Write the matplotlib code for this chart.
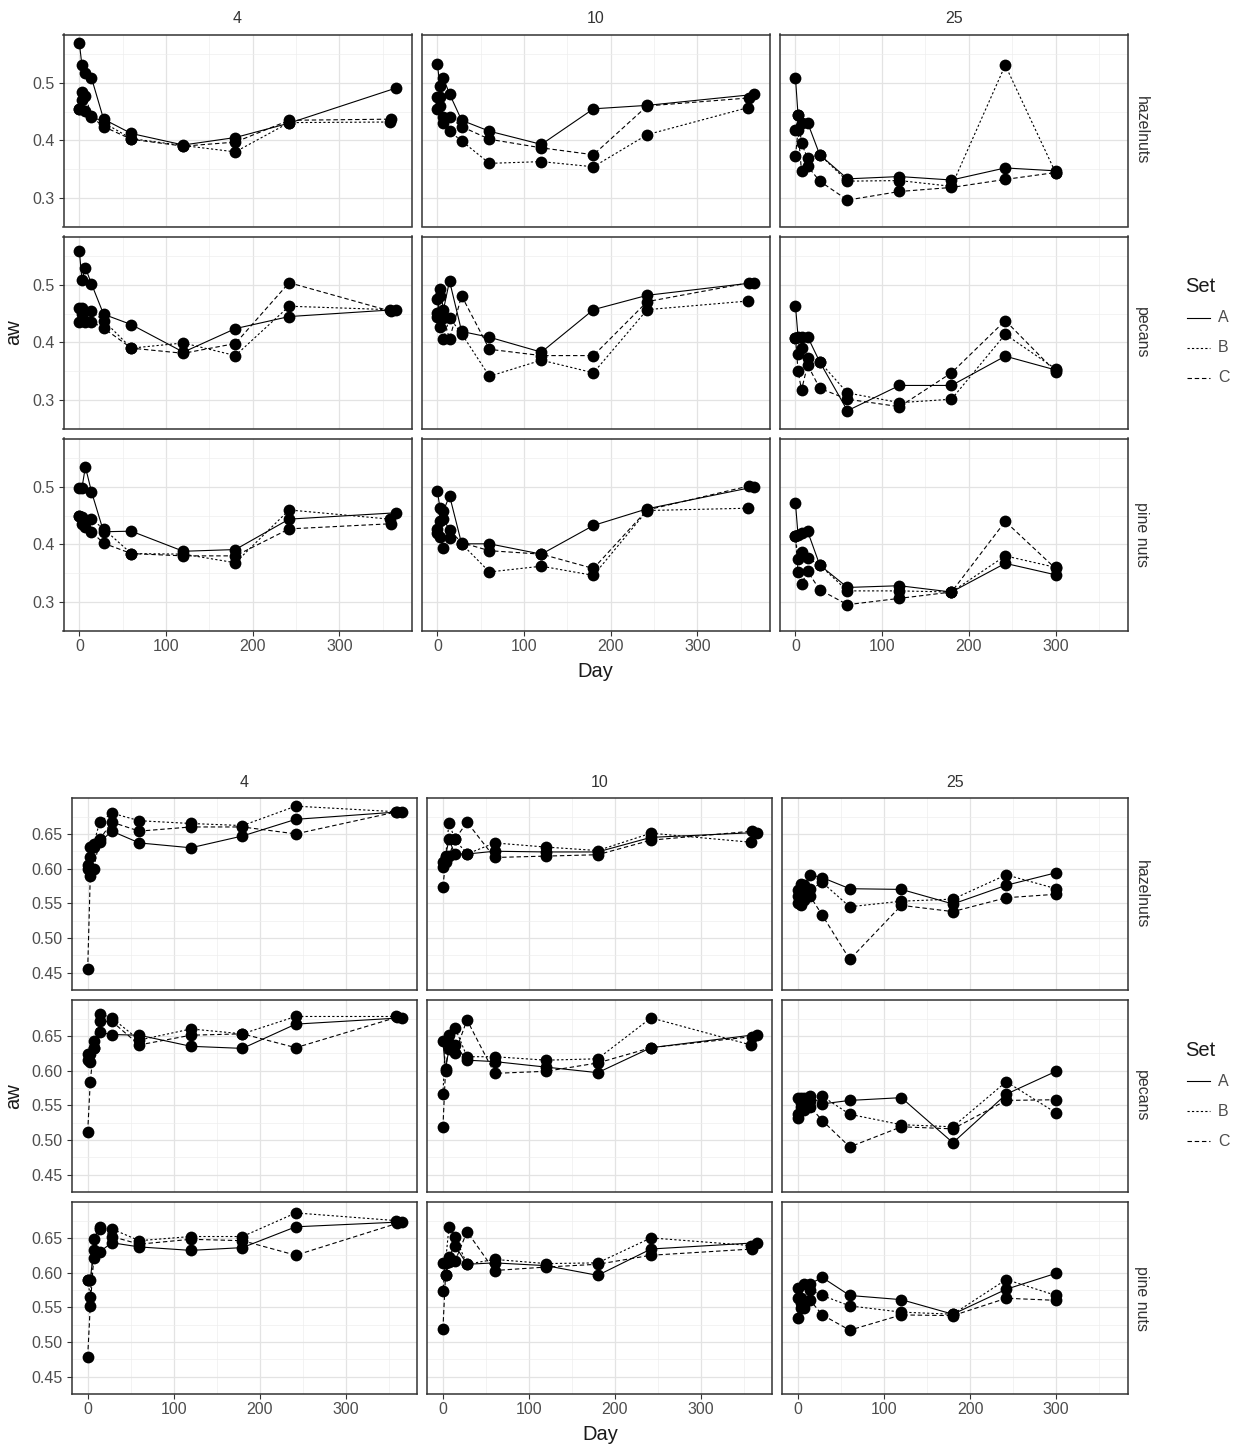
import numpy as np
import matplotlib
matplotlib.use("Agg")
import matplotlib.pyplot as plt
from matplotlib.lines import Line2D

plt.rcParams['font.family'] = ['Liberation Sans', 'DejaVu Sans']

# sampling days (4 and 10 C run to ~1 year, 25 C stops at 300)
days = [0, 3, 7, 14, 28, 60, 120, 180, 242, 360]
days_25 = [0, 3, 7, 14, 28, 60, 120, 180, 242, 300]
last_day = [365, 358, 360]  # final day for sets A, B, C

temps = ["4", "10", "25"]
nuts = ["hazelnuts", "pecans", "pine nuts"]
sets = ["A", "B", "C"]

# ---- upper chart: rows = sets A, B, C ----
lo_hz_4 = [[0.570, 0.531, 0.517, 0.509, 0.437, 0.412, 0.392, 0.405, 0.430, 0.491],
           [0.455, 0.484, 0.477, 0.443, 0.431, 0.403, 0.391, 0.380, 0.431, 0.432],
           [0.455, 0.470, 0.452, 0.441, 0.424, 0.402, 0.390, 0.397, 0.435, 0.437]]
lo_hz_10 = [[0.533, 0.494, 0.508, 0.481, 0.435, 0.416, 0.393, 0.455, 0.461, 0.480],
            [0.454, 0.476, 0.430, 0.416, 0.399, 0.360, 0.363, 0.354, 0.410, 0.457],
            [0.476, 0.460, 0.440, 0.440, 0.424, 0.402, 0.387, 0.375, 0.460, 0.474]]
lo_hz_25 = [[0.509, 0.444, 0.430, 0.431, 0.375, 0.333, 0.337, 0.331, 0.352, 0.347],
            [0.418, 0.444, 0.395, 0.369, 0.375, 0.329, 0.330, 0.320, 0.531, 0.344],
            [0.372, 0.418, 0.346, 0.355, 0.329, 0.296, 0.311, 0.318, 0.332, 0.344]]
lo_pc_4 = [[0.560, 0.509, 0.530, 0.502, 0.449, 0.431, 0.383, 0.424, 0.445, 0.457],
           [0.460, 0.449, 0.436, 0.454, 0.438, 0.390, 0.399, 0.377, 0.463, 0.457],
           [0.436, 0.460, 0.438, 0.436, 0.425, 0.390, 0.381, 0.398, 0.504, 0.454]]
lo_pc_10 = [[0.452, 0.493, 0.457, 0.507, 0.419, 0.409, 0.383, 0.457, 0.482, 0.504],
            [0.476, 0.427, 0.406, 0.443, 0.415, 0.341, 0.369, 0.347, 0.457, 0.472],
            [0.445, 0.480, 0.443, 0.406, 0.481, 0.388, 0.377, 0.377, 0.471, 0.504]]
lo_pc_25 = [[0.464, 0.410, 0.410, 0.410, 0.366, 0.281, 0.325, 0.325, 0.376, 0.352],
            [0.408, 0.380, 0.391, 0.372, 0.366, 0.312, 0.295, 0.301, 0.414, 0.354],
            [0.408, 0.350, 0.317, 0.361, 0.320, 0.301, 0.288, 0.347, 0.438, 0.349]]
lo_pn_4 = [[0.498, 0.498, 0.535, 0.492, 0.422, 0.423, 0.388, 0.391, 0.444, 0.455],
           [0.449, 0.447, 0.441, 0.444, 0.427, 0.384, 0.383, 0.368, 0.460, 0.444],
           [0.449, 0.436, 0.430, 0.422, 0.402, 0.384, 0.380, 0.380, 0.427, 0.436]]
lo_pn_10 = [[0.493, 0.463, 0.458, 0.485, 0.401, 0.401, 0.383, 0.433, 0.462, 0.500],
            [0.427, 0.413, 0.394, 0.411, 0.401, 0.352, 0.362, 0.346, 0.459, 0.463],
            [0.420, 0.440, 0.444, 0.425, 0.403, 0.389, 0.383, 0.358, 0.460, 0.502]]
lo_pn_25 = [[0.472, 0.416, 0.420, 0.423, 0.364, 0.325, 0.328, 0.317, 0.367, 0.347],
            [0.414, 0.374, 0.386, 0.376, 0.364, 0.319, 0.319, 0.317, 0.380, 0.360],
            [0.414, 0.352, 0.331, 0.353, 0.321, 0.295, 0.306, 0.317, 0.440, 0.358]]

# ---- lower chart ----
hi_hz_4 = [[0.605, 0.616, 0.631, 0.638, 0.654, 0.637, 0.630, 0.647, 0.671, 0.682],
           [0.600, 0.631, 0.636, 0.667, 0.680, 0.669, 0.665, 0.662, 0.690, 0.682],
           [0.455, 0.589, 0.600, 0.642, 0.667, 0.654, 0.660, 0.660, 0.650, 0.682]]
hi_hz_10 = [[0.602, 0.618, 0.642, 0.621, 0.621, 0.625, 0.624, 0.624, 0.645, 0.652],
            [0.609, 0.616, 0.666, 0.642, 0.621, 0.637, 0.631, 0.626, 0.651, 0.638],
            [0.574, 0.609, 0.618, 0.642, 0.667, 0.616, 0.618, 0.620, 0.641, 0.654]]
hi_hz_25 = [[0.569, 0.578, 0.576, 0.591, 0.587, 0.571, 0.570, 0.549, 0.576, 0.594],
            [0.560, 0.551, 0.565, 0.570, 0.580, 0.545, 0.553, 0.556, 0.591, 0.571],
            [0.551, 0.547, 0.555, 0.560, 0.533, 0.469, 0.547, 0.538, 0.558, 0.563]]
hi_pc_4 = [[0.624, 0.613, 0.633, 0.655, 0.652, 0.651, 0.635, 0.632, 0.667, 0.676],
           [0.615, 0.624, 0.642, 0.682, 0.676, 0.644, 0.660, 0.653, 0.678, 0.678],
           [0.512, 0.584, 0.633, 0.671, 0.671, 0.637, 0.651, 0.653, 0.633, 0.677]]
hi_pc_10 = [[0.642, 0.602, 0.631, 0.637, 0.615, 0.613, 0.605, 0.597, 0.633, 0.652],
            [0.566, 0.642, 0.651, 0.662, 0.620, 0.620, 0.615, 0.617, 0.676, 0.637],
            [0.519, 0.600, 0.640, 0.625, 0.673, 0.596, 0.599, 0.611, 0.633, 0.649]]
hi_pc_25 = [[0.561, 0.554, 0.561, 0.563, 0.552, 0.557, 0.561, 0.496, 0.566, 0.599],
            [0.537, 0.548, 0.543, 0.556, 0.563, 0.537, 0.522, 0.519, 0.584, 0.539],
            [0.532, 0.560, 0.550, 0.548, 0.528, 0.490, 0.519, 0.516, 0.557, 0.558]]
hi_pn_4 = [[0.590, 0.590, 0.632, 0.630, 0.643, 0.637, 0.632, 0.636, 0.666, 0.673],
           [0.590, 0.565, 0.648, 0.666, 0.663, 0.646, 0.652, 0.652, 0.686, 0.675],
           [0.479, 0.552, 0.621, 0.663, 0.652, 0.641, 0.648, 0.646, 0.625, 0.671]]
hi_pn_10 = [[0.614, 0.596, 0.623, 0.639, 0.612, 0.614, 0.610, 0.596, 0.634, 0.643],
            [0.573, 0.614, 0.666, 0.652, 0.612, 0.619, 0.613, 0.614, 0.650, 0.639],
            [0.519, 0.596, 0.615, 0.616, 0.659, 0.603, 0.608, 0.612, 0.625, 0.634]]
hi_pn_25 = [[0.578, 0.563, 0.584, 0.584, 0.593, 0.567, 0.561, 0.540, 0.576, 0.599],
            [0.563, 0.549, 0.554, 0.575, 0.567, 0.552, 0.543, 0.540, 0.590, 0.567],
            [0.534, 0.556, 0.549, 0.560, 0.539, 0.517, 0.539, 0.538, 0.563, 0.560]]

lo_yticks = [0.3, 0.4, 0.5]
lo_ylabels = ["0.3", "0.4", "0.5"]
hi_yticks = [0.45, 0.50, 0.55, 0.60, 0.65]
hi_ylabels = ["0.45", "0.50", "0.55", "0.60", "0.65"]
xticks = [0, 100, 200, 300]

W, H = 1239, 1450
fig = plt.figure(figsize=(W / 100, H / 100), dpi=100)

line_styles = ["-", (0, (2, 2)), (0, (4, 2.5))]
TXT = "#4D4D4D"


def px_axes(x0, y0, w, h):
    return fig.add_axes([x0 / W, 1 - (y0 + h) / H, w / W, h / H])


def draw_grid(grid, top, left, yticks, ylabels):
    right = 1127.7
    gap = 10
    pw = (right - left - 2 * gap) / 3
    ph = 192
    vals = np.concatenate([np.ravel(p) for row in grid for p in row])
    pad = 0.05 * (vals.max() - vals.min())
    ylim = (vals.min() - pad, vals.max() + pad)
    xmax = max(last_day)
    xlim = (-0.05 * xmax, 1.05 * xmax)
    ystep = yticks[1] - yticks[0]
    yminor = [t + ystep / 2 for t in [yticks[0] - ystep] + yticks]
    for r, row in enumerate(grid):
        for c, panel in enumerate(row):
            ax = px_axes(left + c * (pw + gap), top + r * (ph + gap), pw, ph)
            for s, v in enumerate(panel):
                d = days_25 if temps[c] == "25" else days[:-1] + [last_day[s]]
                ax.plot(d, v, color="black", lw=0.8, ls=line_styles[s], zorder=2)
                ax.plot(d, v, "o", color="black", ms=8.5, mew=0, zorder=3)
            ax.set_xlim(xlim)
            ax.set_ylim(ylim)
            ax.set_xticks(xticks)
            ax.set_xticks([50, 150, 250, 350], minor=True)
            ax.set_yticks(yticks)
            ax.set_yticks(yminor, minor=True)
            ax.grid(True, which="major", color="#E3E3E3", lw=0.9, zorder=0)
            ax.grid(True, which="minor", color="#EEEEEE", lw=0.5, zorder=0)
            ax.set_axisbelow(True)
            for sp in ax.spines.values():
                sp.set_color("#333333")
                sp.set_linewidth(1.1)
            ax.tick_params(which="minor", length=0)
            ax.tick_params(which="major", color="#333333", labelcolor=TXT,
                           labelsize=11.5, length=3.5, width=0.8)
            ax.tick_params(axis="x", pad=2.5)
            ax.tick_params(axis="y", pad=3)
            if r == 2:
                ax.set_xticklabels([str(t) for t in xticks])
            else:
                ax.tick_params(axis="x", length=0, labelbottom=False)
            if c == 0:
                ax.set_yticklabels(ylabels)
            else:
                ax.tick_params(axis="y", length=0, labelleft=False)
            if r == 0:
                ax.text(0.5, 1 + 16 / ph, temps[c], transform=ax.transAxes,
                        ha="center", va="center", fontsize=11.5, color="#333333")
            if c == 2:
                ax.text(1 + 14 / pw, 0.5, nuts[r], transform=ax.transAxes,
                        ha="center", va="center", rotation=270,
                        fontsize=11.5, color="#333333")

    mid_y = top + (3 * ph + 2 * gap) / 2
    bottom = top + 3 * ph + 2 * gap
    fig.text((left + right) / 2 / W, 1 - (bottom + 41) / H, "Day",
             ha="center", va="center", fontsize=14.5, color="#1A1A1A")
    fig.text(14 / W, 1 - mid_y / H, "aw", rotation=90,
             ha="center", va="center", fontsize=14.5, color="#1A1A1A")

    # legend
    fig.text(1185 / W, 1 - (mid_y - 46) / H, "Set", ha="left", va="center",
             fontsize=14.5, color="#1A1A1A")
    for s, name in enumerate(sets):
        yy = 1 - (mid_y - 15 + 30 * s) / H
        fig.add_artist(Line2D([1187 / W, 1210 / W], [yy, yy], color="black",
                              lw=0.8, ls=line_styles[s], transform=fig.transFigure))
        fig.text(1218 / W, yy, name, ha="left", va="center",
                 fontsize=11.5, color=TXT)


lo_grid = [[lo_hz_4, lo_hz_10, lo_hz_25],
           [lo_pc_4, lo_pc_10, lo_pc_25],
           [lo_pn_4, lo_pn_10, lo_pn_25]]
hi_grid = [[hi_hz_4, hi_hz_10, hi_hz_25],
           [hi_pc_4, hi_pc_10, hi_pc_25],
           [hi_pn_4, hi_pn_10, hi_pn_25]]

draw_grid(lo_grid, 34.5, 63.5, lo_yticks, lo_ylabels)
draw_grid(hi_grid, 798, 72, hi_yticks, hi_ylabels)

fig.savefig("out.png", dpi=100, facecolor="white")
